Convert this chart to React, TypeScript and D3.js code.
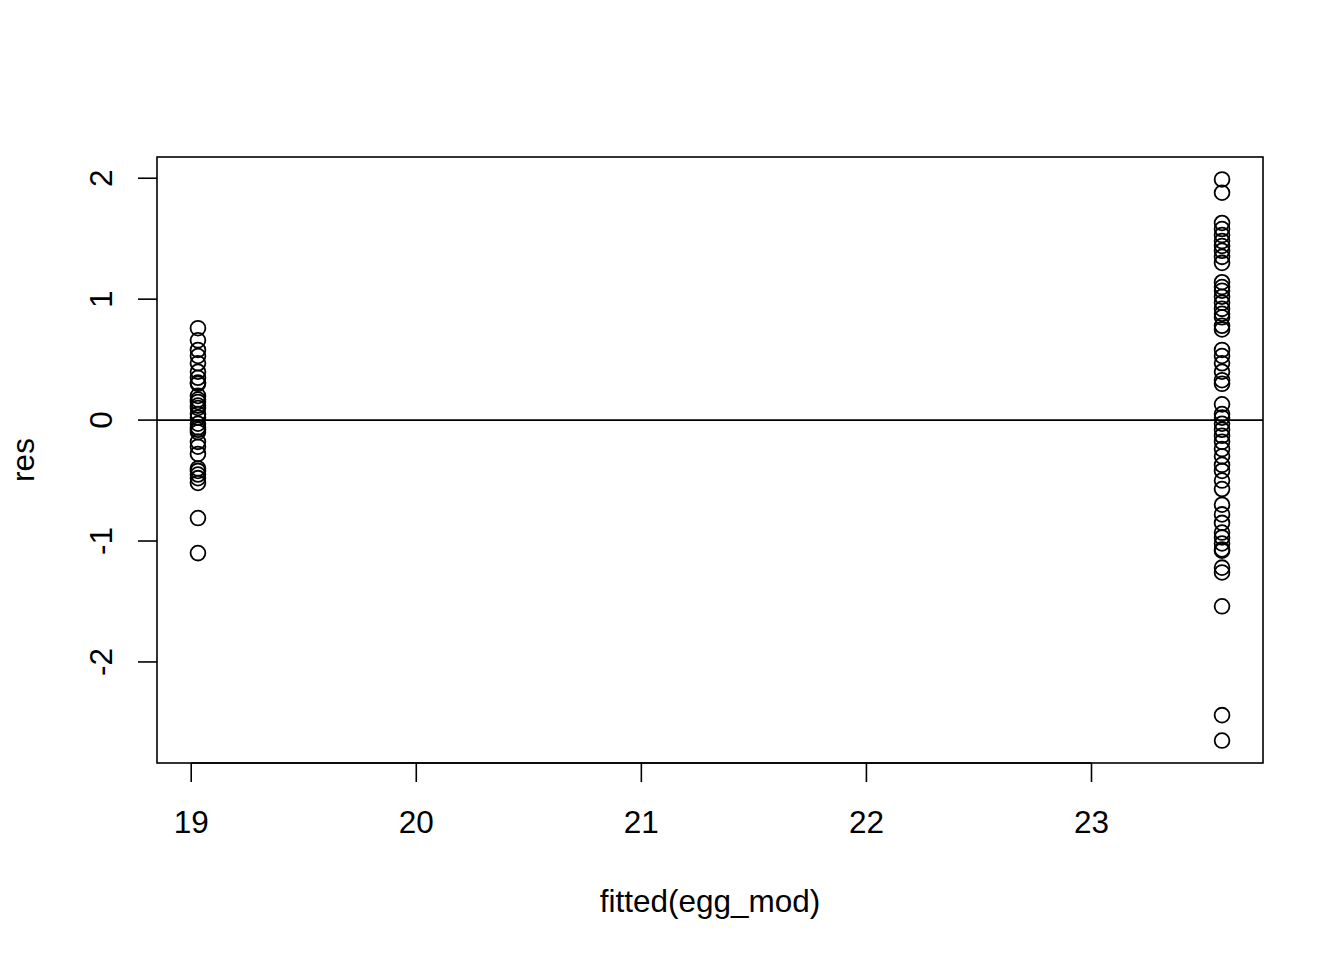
import React from "react";
import * as d3 from "d3";

const fittedLow = 19.03;
const fittedHigh = 23.58;

const resLow = [
  0.76, 0.66, 0.58, 0.53, 0.47, 0.4, 0.35, 0.31, 0.3, 0.2, 0.17, 0.15, 0.12, 0.1,
  0.05, 0.02, -0.03, -0.06, -0.08, -0.1, -0.18, -0.22, -0.28, -0.4, -0.42, -0.45,
  -0.48, -0.52, -0.81, -1.1,
];

const resHigh = [
  1.99, 1.88, 1.63, 1.58, 1.53, 1.48, 1.44, 1.4, 1.35, 1.3, 1.14, 1.1, 1.07, 1.02,
  0.97, 0.92, 0.88, 0.85, 0.78, 0.75, 0.58, 0.53, 0.47, 0.4, 0.33, 0.3, 0.13, 0.05,
  0.02, -0.03, -0.08, -0.13, -0.18, -0.24, -0.3, -0.37, -0.42, -0.5, -0.57, -0.7,
  -0.78, -0.85, -0.93, -0.97, -1.02, -1.07, -1.08, -1.22, -1.26, -1.54, -2.44, -2.65,
];

const xTicks = [19, 20, 21, 22, 23];
const yTicks = [-2, -1, 0, 1, 2];

const points = [
  ...resLow.map((r) => ({ x: fittedLow, y: r })),
  ...resHigh.map((r) => ({ x: fittedHigh, y: r })),
];

const W = 1344;
const H = 960;
const L = 157;
const R = 1263;
const T = 157;
const B = 763;
const FONT = "'Liberation Sans', Arial, Helvetica, sans-serif";
const FS = 31.5;

function pad([a, b]: [number, number]): [number, number] {
  const d = (b - a) * 0.04;
  return [a - d, b + d];
}

export default function App() {
  const xExt = d3.extent(points, (p) => p.x) as [number, number];
  const yExt = d3.extent(points, (p) => p.y) as [number, number];
  const x = d3.scaleLinear().domain(pad(xExt)).range([L, R]);
  const y = d3.scaleLinear().domain(pad(yExt)).range([B, T]);
  const tick = 19;
  return (
    <svg
      width={W}
      height={H}
      style={{ position: "absolute", left: 0, top: 0, background: "#fff" }}
      fontFamily={FONT}
    >
      <rect x={0} y={0} width={W} height={H} fill="#fff" />
      <rect x={L} y={T} width={R - L} height={B - T} fill="none" stroke="#000" strokeWidth={1.6} />
      <line x1={x(xTicks[0])} x2={x(xTicks[xTicks.length - 1])} y1={B} y2={B} stroke="#000" strokeWidth={1.6} />
      {xTicks.map((t) => (
        <g key={"xt" + t}>
          <line x1={x(t)} x2={x(t)} y1={B} y2={B + tick} stroke="#000" strokeWidth={1.6} />
          <text x={x(t)} y={833} fontSize={FS} textAnchor="middle" fill="#000">
            {t}
          </text>
        </g>
      ))}
      {yTicks.map((t) => (
        <g key={"yt" + t}>
          <line x1={L - tick} x2={L} y1={y(t)} y2={y(t)} stroke="#000" strokeWidth={1.6} />
          <text
            transform={`translate(112,${y(t)}) rotate(-90)`}
            fontSize={FS}
            textAnchor="middle"
            fill="#000"
          >
            {t}
          </text>
        </g>
      ))}
      <text x={(L + R) / 2} y={912} fontSize={FS} textAnchor="middle" fill="#000">
        fitted(egg_mod)
      </text>
      <text
        transform={`translate(34,${(T + B) / 2}) rotate(-90)`}
        fontSize={FS}
        textAnchor="middle"
        fill="#000"
      >
        res
      </text>
      <line x1={L} x2={R} y1={y(0)} y2={y(0)} stroke="#000" strokeWidth={1.6} />
      {points.map((p, i) => (
        <circle
          key={i}
          cx={x(p.x)}
          cy={y(p.y)}
          r={7.4}
          fill="none"
          stroke="#000"
          strokeWidth={1.8}
        />
      ))}
    </svg>
  );
}
